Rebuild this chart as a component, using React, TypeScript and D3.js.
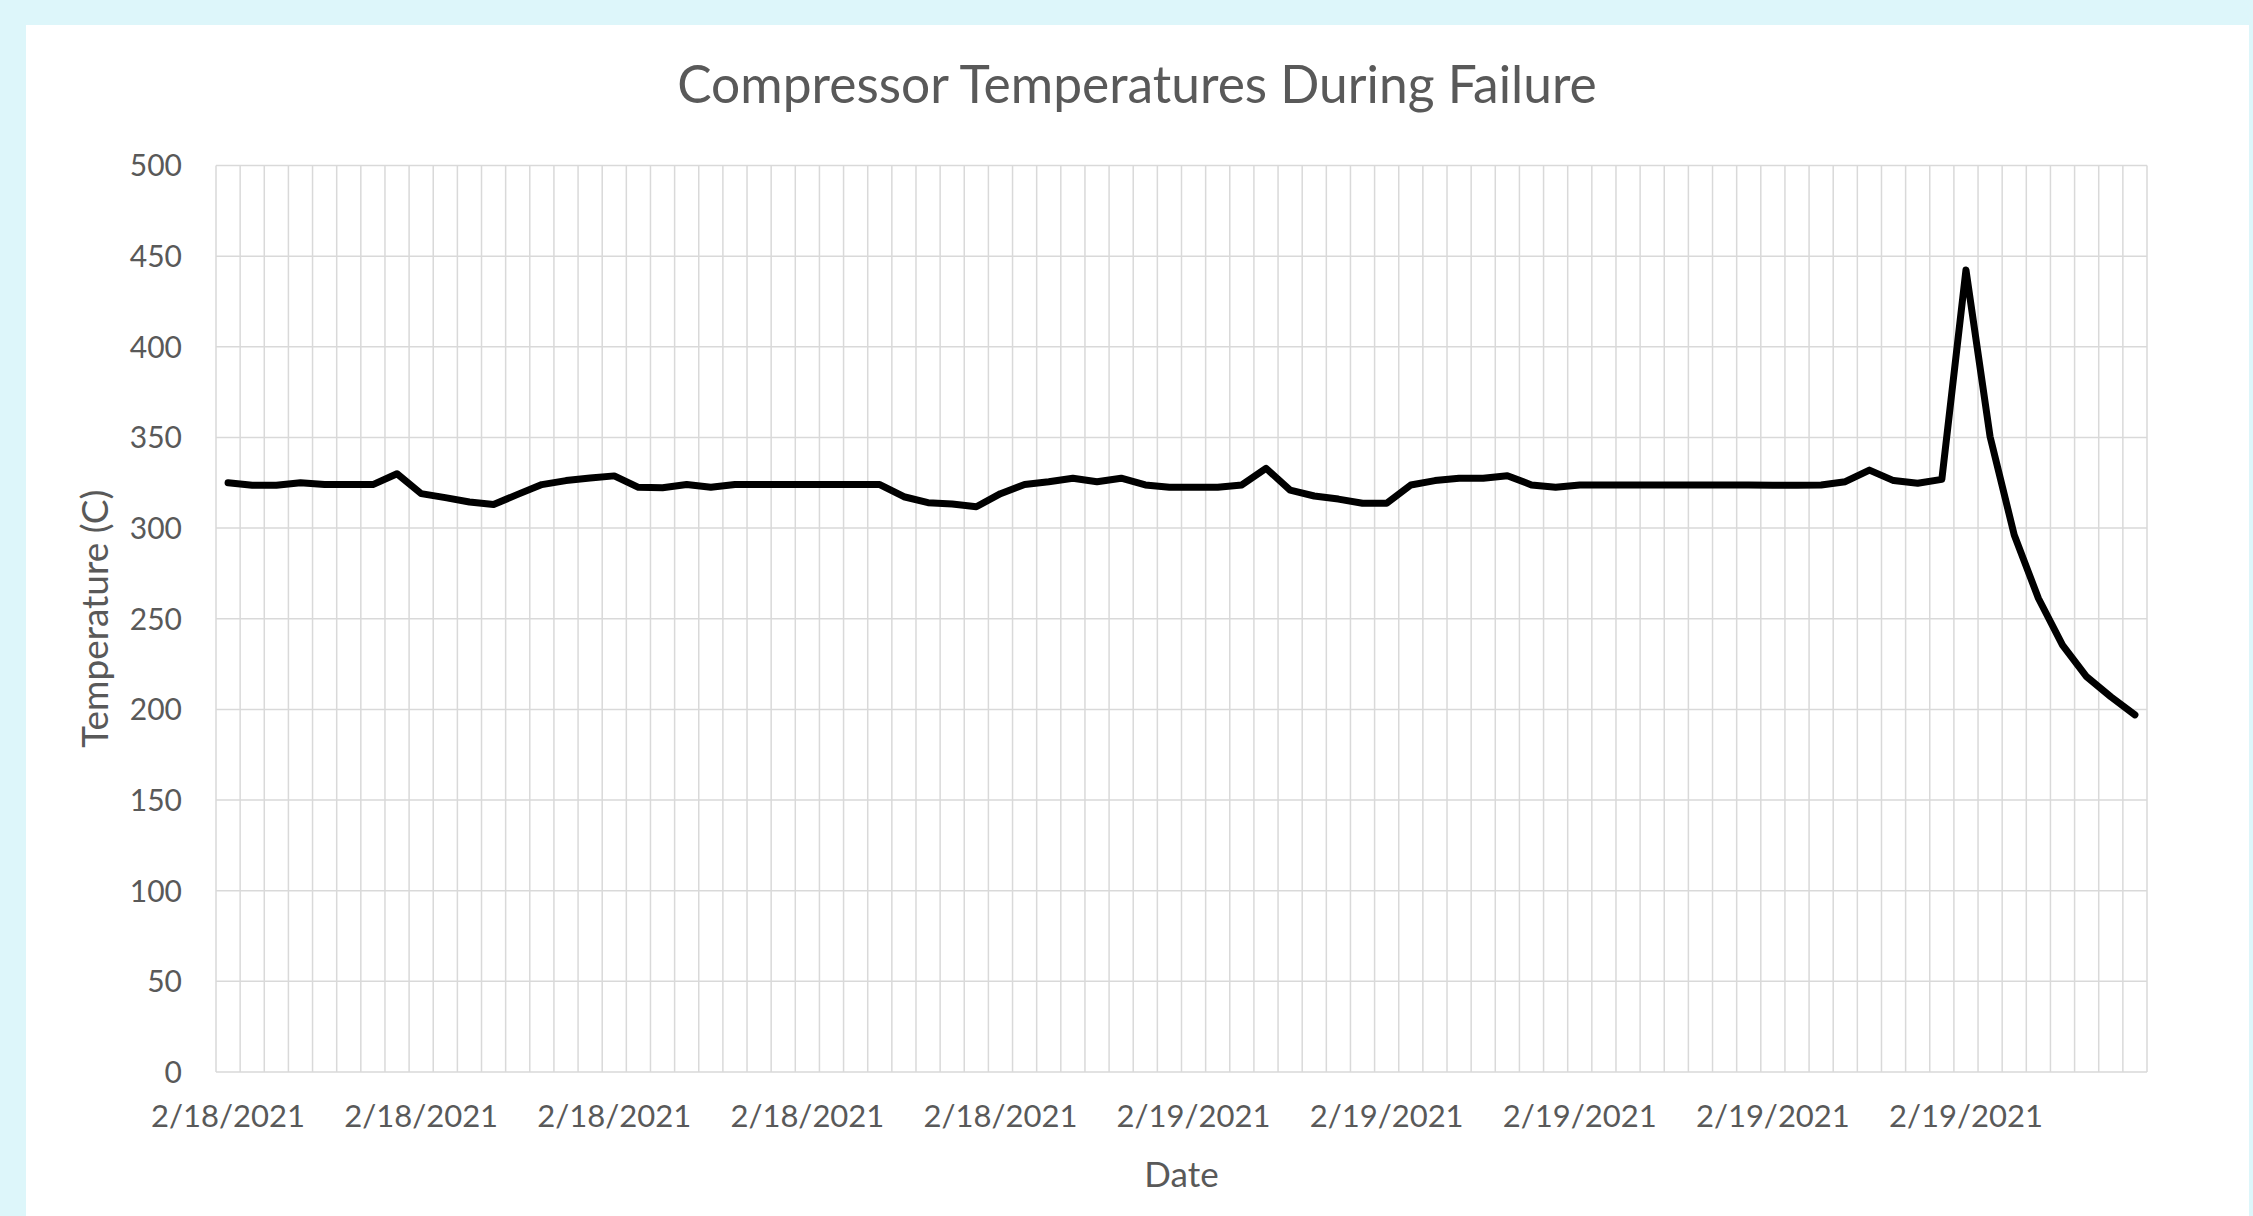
import * as d3 from 'd3';

// Temperature readings (C), one per category
const temperatures = [
  325, 323.6, 323.6, 325, 324, 324, 324, 330, 319, 316.8,
  314.4, 313, 318.6, 324, 326.2, 327.6, 328.8, 322.5, 322.3, 324,
  322.5, 324, 324, 324, 324, 324, 324, 324, 317.3, 314,
  313.3, 311.8, 319, 324, 325.6, 327.5, 325.6, 327.5, 323.8, 322.5,
  322.5, 322.5, 323.8, 333, 321, 317.7, 316, 313.7, 313.7, 323.8,
  326.2, 327.5, 327.5, 328.9, 323.8, 322.5, 323.8, 323.8, 323.8, 323.8,
  323.8, 323.8, 323.8, 323.8, 323.6, 323.6, 323.8, 325.6, 332, 326.2,
  324.7, 326.9, 442.4, 350.4, 296.2, 261.3, 235.5, 218, 207, 197,
];

// Category axis labels, shown on every 8th category
const xTickLabels = [
  '2/18/2021', '2/18/2021', '2/18/2021', '2/18/2021', '2/18/2021',
  '2/19/2021', '2/19/2021', '2/19/2021', '2/19/2021', '2/19/2021',
];
const LABEL_EVERY = 8;

const yTicks = [0, 50, 100, 150, 200, 250, 300, 350, 400, 450, 500];

const WIDTH = 2253;
const HEIGHT = 1216;
const PLOT = { left: 216, right: 2147, top: 165.5, bottom: 1072 };
const TEXT = '#595959';
const GRID = '#d9d9d9';
const FONT = 'Lato, "Open Sans", sans-serif';

export default function App() {
  const xScale = d3
    .scaleBand<number>()
    .domain(d3.range(temperatures.length))
    .range([PLOT.left, PLOT.right])
    .padding(0);

  const yScale = d3.scaleLinear().domain([0, 500]).range([PLOT.bottom, PLOT.top]);

  const center = (i: number) => (xScale(i) ?? 0) + xScale.bandwidth() / 2;

  const linePath =
    d3
      .line<number>()
      .x((_, i) => center(i))
      .y((d) => yScale(d))(temperatures) ?? '';

  // vertical gridlines sit on the category boundaries
  const xEdges = [...xScale.domain().map((i) => xScale(i) ?? 0), PLOT.right];

  return (
    <svg
      width={WIDTH}
      height={HEIGHT}
      style={{ position: 'absolute', left: 0, top: 0, display: 'block' }}
      fontFamily={FONT}
    >
      <rect x={0} y={0} width={WIDTH} height={HEIGHT} fill="#ddf6fa" />
      <rect x={26} y={25} width={2223} height={HEIGHT - 25} fill="#ffffff" />

      {/* gridlines */}
      <g stroke={GRID} strokeWidth={1.5}>
        {xEdges.map((x, i) => (
          <line key={`vx${i}`} x1={x} x2={x} y1={PLOT.top} y2={PLOT.bottom} />
        ))}
        {yTicks.map((t) => (
          <line key={`hy${t}`} x1={PLOT.left} x2={PLOT.right} y1={yScale(t)} y2={yScale(t)} />
        ))}
      </g>

      {/* y tick labels */}
      <g fill={TEXT} fontSize={30} textAnchor="end">
        {yTicks.map((t) => (
          <text key={`yl${t}`} x={182} y={yScale(t)} dy="0.36em">
            {t}
          </text>
        ))}
      </g>

      {/* x tick labels */}
      <g fill={TEXT} fontSize={31} textAnchor="middle">
        {xTickLabels.map((label, k) => (
          <text key={`xl${k}`} x={center(k * LABEL_EVERY)} y={1127}>
            {label}
          </text>
        ))}
      </g>

      {/* series */}
      <path
        d={linePath}
        fill="none"
        stroke="#000000"
        strokeWidth={7}
        strokeLinejoin="round"
        strokeLinecap="round"
      />

      {/* titles */}
      <text x={1137} y={103} textAnchor="middle" fontSize={51.5} fill={TEXT}>
        Compressor Temperatures During Failure
      </text>
      <text x={(PLOT.left + PLOT.right) / 2} y={1187} textAnchor="middle" fontSize={35} fill={TEXT}>
        Date
      </text>
      <text
        transform={`translate(108, ${(PLOT.top + PLOT.bottom) / 2}) rotate(-90)`}
        textAnchor="middle"
        fontSize={37}
        fill={TEXT}
      >
        Temperature (C)
      </text>
    </svg>
  );
}
